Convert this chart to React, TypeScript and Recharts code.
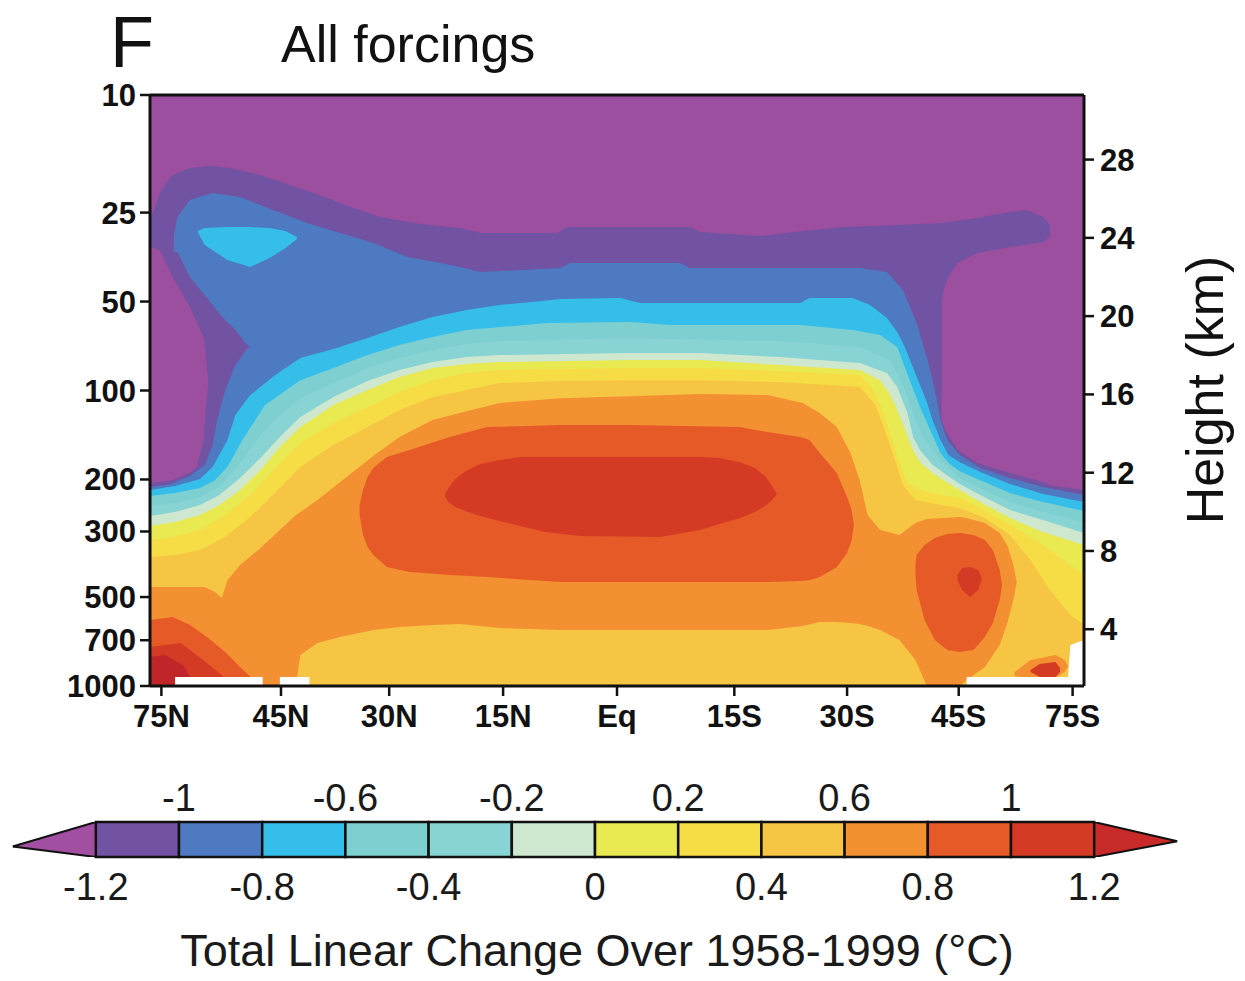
import React from 'react';
import { ComposedChart, Area, XAxis, YAxis, ReferenceArea } from 'recharts';

// Each contour region: [latitude position (15° steps, north negative), lower height (km), upper height (km)]
type Pt = [number, number, number];

const FONT = '"Liberation Sans", Arial, Helvetica, sans-serif';

// ---- axes ----
const X_TICKS = [-4, -2.95, -2, -1, 0, 1.03, 2.02, 3, 4];
const X_LABELS = ['75N', '45N', '30N', '15N', 'Eq', '15S', '30S', '45S', '75S'];
const P_TICKS = [10, 25, 50, 100, 200, 300, 500, 700, 1000];
const KM_TICKS = [4, 8, 12, 16, 20, 24, 28];
const X_DOMAIN: [number, number] = [-4.1, 4.1];
const KM_DOMAIN: [number, number] = [1.1, 31.3];

// ---- colour scale ----
const CB_LEVELS = [-1.2, -1.0, -0.8, -0.6, -0.4, -0.2, 0, 0.2, 0.4, 0.6, 0.8, 1.0, 1.2];
const CB_LOWER_TICKS = [-1.2, -0.8, -0.4, 0, 0.4, 0.8, 1.2];
const CB_UPPER_TICKS = [-1, -0.6, -0.2, 0.2, 0.6, 1];
const CB_DOMAIN: [number, number] = [-1.4, 1.4];
const C_LOW = '#9C4F9F';
const C_M12 = '#7252A2';
const C_M10 = '#4D7AC1';
const C_M08 = '#36BEEB';
const C_M06 = '#7ECFD0';
const C_M04 = '#88D3D3';
const C_M02 = '#CEE8D0';
const C_P00 = '#E9E952';
const C_P02 = '#F6DD46';
const C_P04 = '#F7C544';
const C_P06 = '#F39032';
const C_P08 = '#E65A28';
const C_P10 = '#D53A24';
const C_HIGH = '#C0252A';
const CB_COLORS = [C_M12, C_M10, C_M08, C_M06, C_M04, C_M02, C_P00, C_P02, C_P04, C_P06, C_P08, C_P10];
const CB_LEFT_TRI = [{ c: -1.4, v: [0.3, 0.3] }, { c: -1.2, v: [0, 1] }];
const CB_RIGHT_TRI = [{ c: 1.2, v: [0, 1] }, { c: 1.4, v: [0.45, 0.45] }];

// ---- contour regions (painted in order) ----
const BG: Pt[] = [[-4.1, 1.1, 31.3], [4.1, 1.1, 31.3]];

const VIOLET_MAIN: Pt[] = [
  [-4.10, 1.1, 25.01], [-4.07, 1.1, 25.32], [-4.01, 1.1, 26.35], [-3.90, 1.1, 27.21], [-3.75, 1.1, 27.57],
  [-3.57, 1.1, 27.67], [-3.40, 1.1, 27.57], [-3.13, 1.1, 27.21], [-2.87, 1.1, 26.70], [-2.61, 1.1, 26.19],
  [-2.34, 1.1, 25.58], [-2.08, 1.1, 25.06], [-1.73, 1.1, 24.71], [-1.38, 1.1, 24.50], [-1.20, 1.1, 24.25],
  [-0.53, 1.1, 24.25], [-0.44, 1.1, 24.55], [0.64, 1.1, 24.55], [0.73, 1.1, 24.30], [1.26, 1.1, 24.09],
  [1.55, 1.1, 24.30], [1.98, 1.1, 24.55], [2.42, 1.1, 24.65], [2.86, 1.1, 24.76], [3.16, 1.1, 25.01],
  [3.45, 1.1, 25.32], [3.60, 1.1, 25.42], [3.74, 1.1, 25.06], [3.82, 1.1, 24.50], [4.10, 1.1, 24.50],
];

const MAG_RIGHT: Pt[] = [
  [2.85, 14.69, 20.82], [2.88, 14.18, 21.59], [2.91, 13.92, 22.00], [2.99, 13.16, 22.71], [3.16, 12.49, 23.23],
  [3.45, 11.98, 23.53], [3.74, 11.52, 23.79], [3.80, 11.37, 24.04], [3.84, 11.32, 31.3], [4.10, 11.11, 31.3],
];

const BLUE_MAIN: Pt[] = [
  [-4.10, 1.1, 11.27], [-3.97, 1.1, 11.37], [-3.91, 1.1, 11.42], [-3.89, 1.1, 24.14], [-3.86, 1.1, 25.06],
  [-3.75, 1.1, 25.93], [-3.55, 1.1, 26.29], [-3.31, 1.1, 26.09], [-3.02, 1.1, 25.42], [-2.72, 1.1, 24.76],
  [-2.43, 1.1, 24.25], [-2.14, 1.1, 23.74], [-1.84, 1.1, 23.02], [-1.55, 1.1, 22.71], [-1.38, 1.1, 22.51],
  [-1.20, 1.1, 22.25], [-0.50, 1.1, 22.46], [-0.41, 1.1, 22.71], [0.55, 1.1, 22.71], [0.64, 1.1, 22.46],
  [2.13, 1.1, 22.46], [2.37, 1.1, 22.25], [2.51, 1.1, 21.33], [2.63, 1.1, 19.65], [2.72, 1.1, 17.91],
  [2.79, 1.1, 16.22], [2.84, 1.1, 14.69], [2.90, 1.1, 13.67], [3.01, 1.1, 12.90], [3.19, 1.1, 12.24],
  [3.45, 1.1, 11.73], [3.74, 1.1, 11.27], [4.10, 1.1, 10.86],
];

const VIOLET_LEFT: Pt[] = [
  [-3.91, 11.42, 23.28], [-3.86, 11.57, 23.28], [-3.75, 11.83, 22.00], [-3.62, 12.39, 21.08], [-3.55, 13.41, 20.57],
  [-3.51, 14.69, 20.26], [-3.44, 16.22, 19.80], [-3.35, 17.50, 19.29], [-3.25, 18.32, 18.52], [-3.22, 18.42, 18.42],
];

const MAG_LEFT: Pt[] = [
  [-4.10, 11.47, 23.58], [-4.01, 11.52, 23.33], [-3.90, 11.62, 22.00], [-3.75, 11.98, 20.47],
  [-3.69, 12.29, 19.70], [-3.63, 13.67, 18.93], [-3.61, 15.20, 18.01], [-3.59, 16.48, 16.73],
];

const CYAN_BLOB: Pt[] = [
  [-3.68, 24.30, 24.35], [-3.62, 23.63, 24.50], [-3.42, 22.87, 24.55], [-3.22, 22.51, 24.55],
  [-3.05, 22.97, 24.50], [-2.91, 23.48, 24.35], [-2.81, 23.94, 24.04],
];

const CYAN_MAIN: Pt[] = [
  [-4.10, 1.1, 11.11], [-3.88, 1.1, 11.32], [-3.66, 1.1, 11.68], [-3.55, 1.1, 12.29], [-3.42, 1.1, 13.67],
  [-3.35, 1.1, 14.95], [-3.22, 1.1, 15.97], [-3.00, 1.1, 16.99], [-2.78, 1.1, 17.86], [-2.49, 1.1, 18.32],
  [-2.19, 1.1, 18.88], [-1.91, 1.1, 19.44], [-1.62, 1.1, 19.95], [-1.32, 1.1, 20.31], [-1.03, 1.1, 20.57],
  [-0.74, 1.1, 20.72], [-0.50, 1.1, 20.87], [0.03, 1.1, 20.93], [0.20, 1.1, 20.67], [1.61, 1.1, 20.67],
  [1.69, 1.1, 20.93], [2.07, 1.1, 20.93], [2.22, 1.1, 20.57], [2.37, 1.1, 19.90], [2.46, 1.1, 19.19],
  [2.53, 1.1, 18.37], [2.59, 1.1, 17.50], [2.66, 1.1, 16.48], [2.72, 1.1, 15.61], [2.77, 1.1, 14.69],
  [2.84, 1.1, 13.67], [2.91, 1.1, 12.90], [3.01, 1.1, 12.54], [3.19, 1.1, 12.03], [3.45, 1.1, 11.42],
  [3.74, 1.1, 10.91], [4.10, 1.1, 10.50],
];

const TEAL1: Pt[] = [
  [-4.10, 1.1, 10.81], [-3.88, 1.1, 10.96], [-3.66, 1.1, 11.22], [-3.53, 1.1, 11.62], [-3.42, 1.1, 12.29],
  [-3.29, 1.1, 13.67], [-3.09, 1.1, 15.46], [-2.78, 1.1, 16.73], [-2.49, 1.1, 17.35], [-2.19, 1.1, 18.01],
  [-1.91, 1.1, 18.52], [-1.62, 1.1, 18.93], [-1.32, 1.1, 19.29], [-1.03, 1.1, 19.44], [-0.61, 1.1, 19.65],
  [0.11, 1.1, 19.70], [0.47, 1.1, 19.55], [1.61, 1.1, 19.55], [2.07, 1.1, 19.29], [2.31, 1.1, 19.03],
  [2.46, 1.1, 18.42], [2.57, 1.1, 16.73], [2.66, 1.1, 15.36], [2.75, 1.1, 14.18], [2.84, 1.1, 13.00],
  [2.92, 1.1, 12.44], [3.01, 1.1, 12.08], [3.19, 1.1, 11.62], [3.45, 1.1, 10.96], [3.74, 1.1, 10.50],
  [4.10, 1.1, 10.04],
];

const TEAL2: Pt[] = [
  [-4.10, 1.1, 10.30], [-3.88, 1.1, 10.45], [-3.66, 1.1, 10.76], [-3.49, 1.1, 11.27], [-3.31, 1.1, 12.49],
  [-3.13, 1.1, 13.92], [-2.96, 1.1, 14.95], [-2.78, 1.1, 15.81], [-2.49, 1.1, 16.58], [-2.19, 1.1, 17.35],
  [-1.91, 1.1, 17.86], [-1.62, 1.1, 18.27], [-1.32, 1.1, 18.57], [-1.03, 1.1, 18.73], [0.11, 1.1, 18.88],
  [1.43, 1.1, 18.73], [2.13, 1.1, 18.42], [2.40, 1.1, 17.76], [2.53, 1.1, 16.22], [2.62, 1.1, 14.69],
  [2.70, 1.1, 13.67], [2.84, 1.1, 12.65], [3.01, 1.1, 11.73], [3.19, 1.1, 11.22], [3.45, 1.1, 10.50],
  [3.74, 1.1, 9.99], [4.10, 1.1, 9.48],
];

const PALE: Pt[] = [
  [-4.10, 1.1, 9.79], [-3.88, 1.1, 9.99], [-3.66, 1.1, 10.35], [-3.49, 1.1, 10.86], [-3.31, 1.1, 11.73],
  [-3.13, 1.1, 12.75], [-2.96, 1.1, 13.82], [-2.78, 1.1, 14.84], [-2.49, 1.1, 15.87], [-2.19, 1.1, 16.68],
  [-1.91, 1.1, 17.25], [-1.62, 1.1, 17.65], [-1.32, 1.1, 17.91], [-1.03, 1.1, 18.01], [0.11, 1.1, 18.11],
  [0.73, 1.1, 18.11], [1.43, 1.1, 17.91], [2.13, 1.1, 17.60], [2.37, 1.1, 17.09], [2.46, 1.1, 16.38],
  [2.55, 1.1, 15.05], [2.60, 1.1, 13.82], [2.66, 1.1, 13.16], [2.77, 1.1, 12.39], [2.92, 1.1, 11.78],
  [3.01, 1.1, 11.42], [3.19, 1.1, 10.86], [3.45, 1.1, 10.09], [3.74, 1.1, 9.58], [4.10, 1.1, 8.92],
];

const YELLOW_GREEN: Pt[] = [
  [-4.10, 1.1, 9.27], [-3.88, 1.1, 9.48], [-3.66, 1.1, 9.84], [-3.49, 1.1, 10.35], [-3.31, 1.1, 11.11],
  [-3.13, 1.1, 12.14], [-2.96, 1.1, 13.31], [-2.78, 1.1, 14.33], [-2.49, 1.1, 15.46], [-2.19, 1.1, 16.22],
  [-1.91, 1.1, 16.89], [-1.62, 1.1, 17.35], [-1.32, 1.1, 17.55], [-1.03, 1.1, 17.65], [0.11, 1.1, 17.76],
  [0.73, 1.1, 17.76], [1.43, 1.1, 17.50], [2.13, 1.1, 17.25], [2.31, 1.1, 16.73], [2.40, 1.1, 15.97],
  [2.46, 1.1, 15.20], [2.53, 1.1, 14.18], [2.59, 1.1, 13.25], [2.66, 1.1, 12.54], [2.77, 1.1, 11.98],
  [2.92, 1.1, 11.42], [3.01, 1.1, 11.11], [3.19, 1.1, 10.50], [3.45, 1.1, 9.68], [3.74, 1.1, 8.97],
  [4.10, 1.1, 8.30],
];

const YELLOW: Pt[] = [
  [-4.10, 1.1, 8.56], [-3.88, 1.1, 8.71], [-3.66, 1.1, 9.07], [-3.44, 1.1, 9.84], [-3.22, 1.1, 10.86],
  [-3.00, 1.1, 12.24], [-2.78, 1.1, 13.52], [-2.49, 1.1, 14.54], [-2.19, 1.1, 15.36], [-1.91, 1.1, 16.12],
  [-1.62, 1.1, 16.73], [-1.32, 1.1, 17.09], [-1.03, 1.1, 17.25], [0.11, 1.1, 17.35], [0.73, 1.1, 17.35],
  [1.43, 1.1, 17.19], [2.13, 1.1, 16.99], [2.24, 1.1, 16.33], [2.33, 1.1, 15.20], [2.40, 1.1, 13.92],
  [2.47, 1.1, 12.65], [2.55, 1.1, 11.47], [2.66, 1.1, 11.11], [2.84, 1.1, 10.86], [3.01, 1.1, 10.71],
  [3.19, 1.1, 10.19], [3.45, 1.1, 9.33], [3.74, 1.1, 8.30], [4.10, 1.1, 6.77],
];

const LIGHT_ORANGE: Pt[] = [
  [-4.10, 1.1, 7.69], [-3.88, 1.1, 7.79], [-3.66, 1.1, 8.05], [-3.44, 1.1, 8.71], [-3.22, 1.1, 9.73],
  [-3.00, 1.1, 11.01], [-2.78, 1.1, 12.29], [-2.49, 1.1, 13.41], [-2.19, 1.1, 14.33], [-1.91, 1.1, 15.20],
  [-1.62, 1.1, 15.87], [-1.32, 1.1, 16.22], [-1.03, 1.1, 16.58], [-0.50, 1.1, 16.68], [0.11, 1.1, 16.73],
  [0.73, 1.1, 16.73], [1.43, 1.1, 16.63], [2.13, 1.1, 16.38], [2.27, 1.1, 15.46], [2.35, 1.1, 14.18],
  [2.44, 1.1, 12.65], [2.51, 1.1, 11.37], [2.62, 1.1, 10.60], [2.84, 1.1, 10.35], [3.01, 1.1, 10.19],
  [3.23, 1.1, 9.68], [3.45, 1.1, 8.81], [3.63, 1.1, 7.54], [3.80, 1.1, 6.00], [3.98, 1.1, 4.73],
  [4.10, 1.1, 4.22],
];

const ORANGE: Pt[] = [
  [-4.10, 1.1, 6.16], [-3.62, 1.1, 6.16], [-3.53, 1.1, 5.90], [-3.47, 1.1, 5.60], [-3.42, 1.1, 6.51],
  [-3.31, 1.1, 7.28], [-3.13, 1.1, 8.15], [-2.96, 1.1, 9.07], [-2.82, 1.1, 9.84], [-2.78, 2.68, 9.99],
  [-2.63, 3.30, 10.60], [-2.43, 3.60, 11.52], [-2.14, 3.96, 12.85], [-1.91, 4.11, 13.82], [-1.62, 4.22, 14.69],
  [-1.38, 4.27, 15.05], [-1.03, 4.06, 15.56], [-0.50, 3.96, 15.81], [0.11, 3.96, 15.91], [0.73, 3.96, 16.02],
  [1.32, 3.96, 15.97], [1.63, 4.16, 15.56], [1.78, 4.37, 15.05], [1.93, 4.37, 14.33], [2.05, 4.32, 13.00],
  [2.13, 4.27, 11.62], [2.20, 4.16, 9.84], [2.31, 3.96, 9.07], [2.48, 3.45, 8.81], [2.62, 2.43, 9.43],
  [2.72, 1.1, 9.63], [3.01, 1.1, 9.73], [3.07, 1.41, 9.68], [3.23, 2.07, 9.43], [3.36, 3.19, 8.92],
  [3.43, 4.37, 8.25], [3.48, 5.49, 7.28], [3.51, 6.41, 6.41],
];

const RED_ORANGE_MAIN: Pt[] = [
  [-2.26, 9.84, 10.35], [-2.23, 8.81, 11.11], [-2.19, 8.20, 11.78], [-2.14, 7.79, 12.24], [-2.02, 7.18, 12.80],
  [-1.82, 6.92, 13.16], [-1.47, 6.77, 13.82], [-1.14, 6.67, 14.33], [-0.50, 6.41, 14.44], [0.11, 6.41, 14.44],
  [1.08, 6.41, 14.33], [1.32, 6.41, 14.08], [1.61, 6.46, 13.82], [1.69, 6.51, 13.67], [1.78, 6.67, 13.00],
  [1.93, 7.18, 11.98], [2.02, 7.89, 10.76], [2.06, 8.56, 10.09], [2.08, 9.33, 9.33],
];

const RED_ORANGE_45S: Pt[] = [
  [2.62, 6.77, 7.28], [2.63, 6.00, 7.79], [2.70, 4.47, 8.30], [2.79, 3.45, 8.66], [2.90, 2.94, 8.87],
  [3.01, 2.84, 8.92], [3.13, 2.94, 8.81], [3.23, 3.60, 8.56], [3.30, 4.32, 8.05], [3.36, 5.49, 7.03],
  [3.38, 6.26, 6.26],
];

const RED_ORANGE_SURFACE: Pt[] = [
  [-4.10, 1.1, 4.47], [-3.90, 1.1, 4.62], [-3.75, 1.1, 4.22], [-3.60, 1.1, 3.60], [-3.44, 1.1, 2.84],
  [-3.31, 1.1, 2.07], [-3.16, 1.1, 1.25], [-3.12, 1.1, 1.1],
];

const RED_MAIN: Pt[] = [
  [-1.51, 10.81, 10.91], [-1.48, 10.50, 11.22], [-1.42, 10.25, 11.68], [-1.33, 10.04, 12.08], [-1.20, 9.79, 12.44],
  [-1.03, 9.53, 12.65], [-0.85, 9.27, 12.80], [-0.63, 8.97, 12.80], [-0.32, 8.76, 12.80], [0.38, 8.71, 12.80],
  [0.73, 9.07, 12.80], [0.90, 9.38, 12.75], [1.08, 9.68, 12.54], [1.21, 9.99, 12.24], [1.30, 10.30, 11.83],
  [1.36, 10.60, 11.32], [1.40, 10.86, 10.96],
];

const RED_45S: Pt[] = [
  [2.99, 6.51, 6.77], [3.03, 6.00, 7.13], [3.10, 5.65, 7.18], [3.17, 6.00, 7.03], [3.20, 6.51, 6.67],
];

const RED_SURFACE: Pt[] = [
  [-4.10, 1.1, 3.09], [-3.83, 1.1, 3.30], [-3.60, 1.1, 2.27], [-3.42, 1.1, 1.41], [-3.38, 1.1, 1.1],
];

const DARK_RED_SURFACE: Pt[] = [
  [-4.10, 1.1, 2.58], [-3.97, 1.1, 2.68], [-3.81, 1.1, 2.17], [-3.70, 1.1, 1.1],
];

const ORANGE_SOUTH_SURFACE: Pt[] = [
  [3.49, 1.61, 1.81], [3.63, 1.51, 2.43], [3.85, 1.51, 2.68], [3.93, 1.81, 2.43], [3.96, 2.12, 2.12],
];

const RED_SOUTH_SURFACE: Pt[] = [
  [3.63, 1.81, 1.92], [3.71, 1.56, 2.22], [3.85, 1.56, 2.33], [3.89, 1.81, 2.02],
];

const MISSING_1: Pt[] = [[-3.88, 1.1, 1.56], [-3.11, 1.1, 1.56]];
const MISSING_2: Pt[] = [[-2.96, 1.1, 1.56], [-2.70, 1.1, 1.56]];
const MISSING_3: Pt[] = [[3.07, 1.1, 1.56], [3.96, 1.1, 1.56], [3.98, 1.1, 3.19], [4.10, 1.1, 3.45]];

const LAYERS: { id: string; data: Pt[]; color: string }[] = [
  { id: 'bg', data: BG, color: C_LOW },
  { id: 'violetMain', data: VIOLET_MAIN, color: C_M12 },
  { id: 'magRight', data: MAG_RIGHT, color: C_LOW },
  { id: 'blueMain', data: BLUE_MAIN, color: C_M10 },
  { id: 'violetLeft', data: VIOLET_LEFT, color: C_M12 },
  { id: 'magLeft', data: MAG_LEFT, color: C_LOW },
  { id: 'cyanBlob', data: CYAN_BLOB, color: C_M08 },
  { id: 'cyanMain', data: CYAN_MAIN, color: C_M08 },
  { id: 'teal1', data: TEAL1, color: C_M06 },
  { id: 'teal2', data: TEAL2, color: C_M04 },
  { id: 'pale', data: PALE, color: C_M02 },
  { id: 'yg', data: YELLOW_GREEN, color: C_P00 },
  { id: 'yellow', data: YELLOW, color: C_P02 },
  { id: 'lightOrange', data: LIGHT_ORANGE, color: C_P04 },
  { id: 'orange', data: ORANGE, color: C_P06 },
  { id: 'roMain', data: RED_ORANGE_MAIN, color: C_P08 },
  { id: 'ro45', data: RED_ORANGE_45S, color: C_P08 },
  { id: 'roSurf', data: RED_ORANGE_SURFACE, color: C_P08 },
  { id: 'redMain', data: RED_MAIN, color: C_P10 },
  { id: 'red45', data: RED_45S, color: C_P10 },
  { id: 'redSurf', data: RED_SURFACE, color: C_P10 },
  { id: 'darkRedSurf', data: DARK_RED_SURFACE, color: C_HIGH },
  { id: 'orSouth', data: ORANGE_SOUTH_SURFACE, color: C_P06 },
  { id: 'redSouth', data: RED_SOUTH_SURFACE, color: C_P10 },
  { id: 'miss1', data: MISSING_1, color: '#FFFFFF' },
  { id: 'miss2', data: MISSING_2, color: '#FFFFFF' },
  { id: 'miss3', data: MISSING_3, color: '#FFFFFF' },
];

const toRows = (pts: Pt[]) => pts.map(([u, lo, hi]) => ({ u, v: [lo, hi] }));
const UPPER_ANCHORS = CB_UPPER_TICKS.map((c) => ({ c, v: [0, 0] }));

const axisTick = { fontSize: 31, fontWeight: 700, fill: '#111', fontFamily: FONT };
const cbTick = { fontSize: 38, fill: '#1a1a1a', fontFamily: FONT };
const lineStyle = { stroke: '#111', strokeWidth: 3 };
const tickLineStyle = { stroke: '#111', strokeWidth: 2.5 };
const fmtNum = (v: number) => String(v);

export default function App() {
  return (
    <div style={{ position: 'absolute', left: 0, top: 0, width: 1245, height: 981, background: '#fff', overflow: 'hidden' }}>
      <div style={{ position: 'absolute', left: 0, top: 0 }}>
        <ComposedChart width={1245} height={760} margin={{ top: 94, right: 101, bottom: 24, left: 90 }}>
          <XAxis
            xAxisId="x" dataKey="u" type="number" domain={X_DOMAIN} allowDataOverflow
            ticks={X_TICKS} interval={0} tickFormatter={(v: number) => X_LABELS[X_TICKS.indexOf(v)] ?? ''}
            height={50} tickSize={10} tickMargin={9} axisLine={lineStyle} tickLine={tickLineStyle} tick={axisTick}
          />
          <XAxis
            xAxisId="top" orientation="top" type="number" domain={X_DOMAIN} allowDataOverflow
            tick={false} tickLine={false} height={1} axisLine={lineStyle}
          />
          <YAxis
            yAxisId="p" type="number" scale="log" domain={[10, 1000]} reversed allowDataOverflow
            ticks={P_TICKS} interval={0} width={60} tickSize={10} tickMargin={4}
            axisLine={lineStyle} tickLine={tickLineStyle} tick={axisTick}
          />
          <YAxis
            yAxisId="km" orientation="right" type="number" domain={KM_DOMAIN} allowDataOverflow
            ticks={KM_TICKS} interval={0} width={60} tickSize={10} tickMargin={6}
            axisLine={lineStyle} tickLine={tickLineStyle} tick={axisTick}
          />
          {LAYERS.map((l) => (
            <Area
              key={l.id} xAxisId="x" yAxisId="km" data={toRows(l.data)} dataKey="v" type="linear"
              stroke="none" fill={l.color} fillOpacity={1} dot={false} activeDot={false}
              isAnimationActive={false}
            />
          ))}
        </ComposedChart>
      </div>

      {/* upper colour-bar labels */}
      <div style={{ position: 'absolute', left: 0, top: 760 }}>
        <ComposedChart width={1245} height={62} margin={{ top: 0, right: 67.6, bottom: 0, left: 12.6 }}>
          <XAxis
            xAxisId="u" dataKey="c" type="number" domain={CB_DOMAIN} allowDataOverflow
            ticks={CB_UPPER_TICKS} interval={0} axisLine={false} tickLine={false} tickSize={0} tickMargin={2}
            height={40} tick={cbTick} tickFormatter={fmtNum}
          />
          <YAxis yAxisId="u" type="number" domain={[0, 1]} hide allowDataOverflow />
          <Area xAxisId="u" yAxisId="u" data={UPPER_ANCHORS} dataKey="v" type="linear"
            stroke="none" fill="none" dot={false} activeDot={false} isAnimationActive={false} />
        </ComposedChart>
      </div>

      {/* colour bar with lower labels */}
      <div style={{ position: 'absolute', left: 0, top: 760 }}>
        <ComposedChart width={1245} height={221} margin={{ top: 62, right: 67.6, bottom: 84, left: 12.6 }}>
          <XAxis
            xAxisId="b" dataKey="c" type="number" domain={CB_DOMAIN} allowDataOverflow
            ticks={CB_LOWER_TICKS} interval={0} axisLine={false} tickLine={false} tickSize={0} tickMargin={16}
            height={40} tick={cbTick} tickFormatter={fmtNum}
          />
          <YAxis yAxisId="cb" type="number" domain={[0, 1]} hide allowDataOverflow />
          <Area xAxisId="b" yAxisId="cb" data={CB_LEFT_TRI} dataKey="v" type="linear"
            fill="#A24FA2" fillOpacity={1} stroke="#111" strokeWidth={2} dot={false} activeDot={false} isAnimationActive={false} />
          <Area xAxisId="b" yAxisId="cb" data={CB_RIGHT_TRI} dataKey="v" type="linear"
            fill="#C82A2A" fillOpacity={1} stroke="#111" strokeWidth={2} dot={false} activeDot={false} isAnimationActive={false} />
          {CB_COLORS.map((c, i) => (
            <ReferenceArea
              key={i} xAxisId="b" yAxisId="cb" x1={CB_LEVELS[i]} x2={CB_LEVELS[i + 1]} y1={0} y2={1}
              fill={c} fillOpacity={1} stroke="#111" strokeWidth={2.5} ifOverflow="visible"
            />
          ))}
        </ComposedChart>
      </div>

      <svg width={1245} height={981} style={{ position: 'absolute', left: 0, top: 0, pointerEvents: 'none' }}>
        <text x={110} y={67} fontSize={72} fontFamily={FONT} fill="#111">F</text>
        <text x={281} y={62} fontSize={52} fontFamily={FONT} fill="#111">All forcings</text>
        <text x={1223} y={390} fontSize={52} fontFamily={FONT} fill="#111" textAnchor="middle"
          transform="rotate(-90, 1223, 390)">Height (km)</text>
        <text x={597} y={966} fontSize={45} fontFamily={FONT} fill="#1a1a1a" textAnchor="middle">
          Total Linear Change Over 1958-1999 (°C)
        </text>
      </svg>
    </div>
  );
}
